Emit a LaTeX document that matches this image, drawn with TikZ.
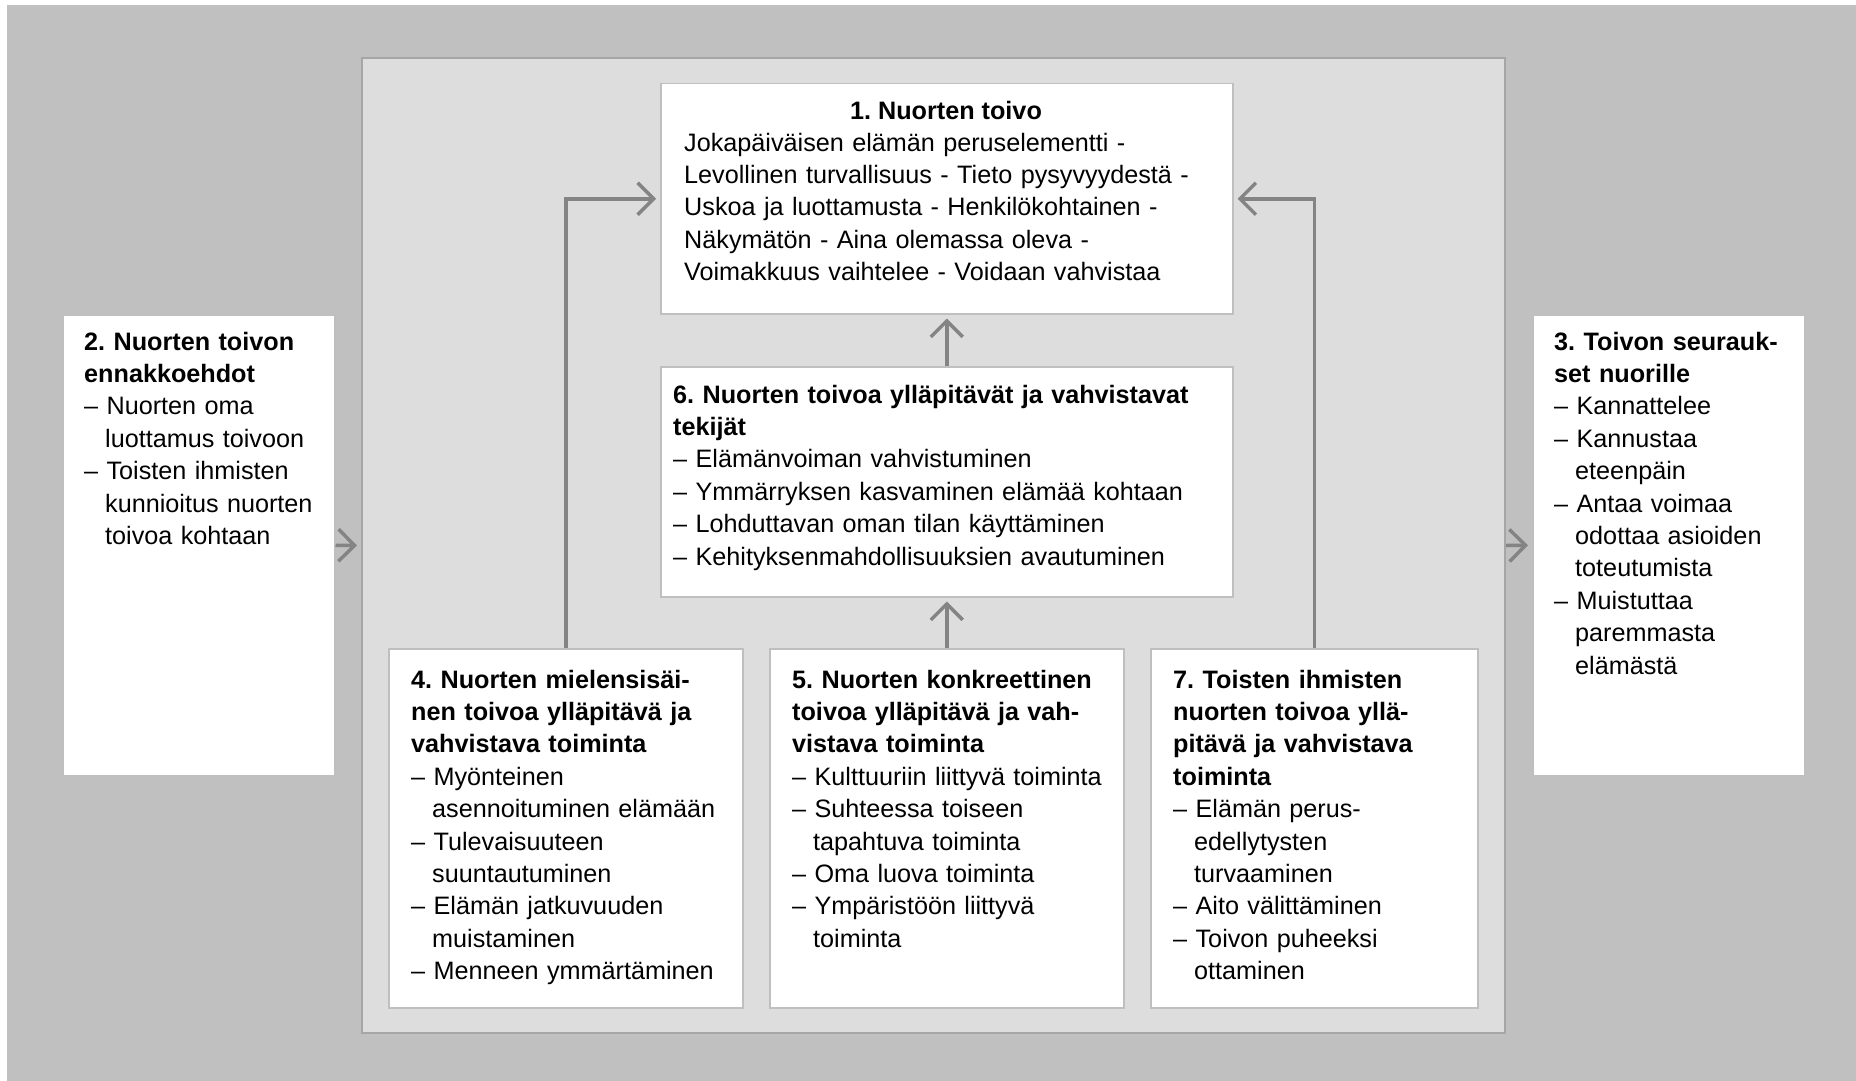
\documentclass[tikz,border=0pt]{standalone}
\usepackage{fontspec}
\setmainfont{Liberation Sans}
\usetikzlibrary{arrows.meta}
\definecolor{outerbg}{HTML}{C0C0C0}
\definecolor{panelbg}{HTML}{DDDDDD}
\definecolor{panelline}{HTML}{A6A6A6}
\definecolor{boxline}{HTML}{BFBFBF}
\definecolor{arrowgray}{HTML}{848484}
% hanging indent for the continuation lines of a list item
\newcommand\hin{\hspace*{21pt}}
\frenchspacing

\begin{document}
\begin{tikzpicture}[x=1pt,y=-1pt,
  box/.style={draw=boxline, line width=1.5pt, fill=white, inner sep=0pt, anchor=north west},
  txt/.style={anchor=base west, inner sep=0pt, align=left, text width=#1,
    font=\fontsize{25.2}{32.4}\selectfont},
  arr/.style={draw=arrowgray, line width=3.5pt,
    -{Straight Barb[length=16pt,width=32pt]}, shorten >=4pt}
]
\useasboundingbox (0,0) rectangle (1856,1081);
\fill[white] (0,0) rectangle (1856,1081);
\fill[outerbg] (7,5) rectangle (1856,1081);

% central panel
\node[draw=panelline, line width=2pt, fill=panelbg, inner sep=0pt, anchor=north west,
      minimum width=1143pt, minimum height=975pt] (panel) at (361,57) {};

% boxes
\node[box, minimum width=572pt, minimum height=230pt] (b1) at (660,83) {};
\node[box, minimum width=572pt, minimum height=230pt] (b6) at (660,366) {};
\node[box, minimum width=354pt, minimum height=359pt] (b4) at (388,648) {};
\node[box, minimum width=354pt, minimum height=359pt] (b5) at (769,648) {};
\node[box, minimum width=327pt, minimum height=359pt] (b7) at (1150,648) {};
\node[box, minimum width=272pt, minimum height=461pt] (b2) at (62,314) {};
\node[box, minimum width=272pt, minimum height=461pt] (b3) at (1532,314) {};

% connectors
\draw[arr] (b2.east) -- (panel.west);
\draw[arr] (panel.east) -- (b3.west);
\draw[arr] (b5.north) -- (b6.south);
\draw[arr] (b6.north) -- (b1.south);
\draw[arr] (b4.north) |- (b1.west);
\draw[arr] (b7.north) |- (b1.east);

% texts
\node[anchor=base, inner sep=0pt, font=\bfseries\fontsize{25.2}{32.4}\selectfont] (t1h) at (946,119) {1. Nuorten toivo};
\node[txt=540pt] (t1) at (684,151) {%
Jokapäiväisen elämän peruselementti -\\
Levollinen turvallisuus - Tieto pysyvyydestä -\\
Uskoa ja luottamusta - Henkilökohtainen -\\
Näkymätön - Aina olemassa oleva -\\
Voimakkuus vaihtelee - Voidaan vahvistaa};

\node[txt=550pt] (t6) at (673,403) {%
\textbf{6. Nuorten toivoa ylläpitävät ja vahvistavat}\\
\textbf{tekijät}\\
– Elämänvoiman vahvistuminen\\
– Ymmärryksen kasvaminen elämää kohtaan\\
– Lohduttavan oman tilan käyttäminen\\
– Kehityksenmahdollisuuksien avautuminen};

\node[txt=330pt] (t4) at (411,688) {%
\textbf{4. Nuorten mielensisäi-}\\
\textbf{nen toivoa ylläpitävä ja}\\
\textbf{vahvistava toiminta}\\
– Myönteinen\\
\hin asennoituminen elämään\\
– Tulevaisuuteen\\
\hin suuntautuminen\\
– Elämän jatkuvuuden\\
\hin muistaminen\\
– Menneen ymmärtäminen};

\node[txt=330pt] (t5) at (792,688) {%
\textbf{5. Nuorten konkreettinen}\\
\textbf{toivoa ylläpitävä ja vah-}\\
\textbf{vistava toiminta}\\
– Kulttuuriin liittyvä toiminta\\
– Suhteessa toiseen\\
\hin tapahtuva toiminta\\
– Oma luova toiminta\\
– Ympäristöön liittyvä\\
\hin toiminta};

\node[txt=300pt] (t7) at (1173,688) {%
\textbf{7. Toisten ihmisten}\\
\textbf{nuorten toivoa yllä-}\\
\textbf{pitävä ja vahvistava}\\
\textbf{toiminta}\\
– Elämän perus-\\
\hin edellytysten\\
\hin turvaaminen\\
– Aito välittäminen\\
– Toivon puheeksi\\
\hin ottaminen};

\node[txt=250pt] (t2) at (84,350) {%
\textbf{2. Nuorten toivon}\\
\textbf{ennakkoehdot}\\
– Nuorten oma\\
\hin luottamus toivoon\\
– Toisten ihmisten\\
\hin kunnioitus nuorten\\
\hin toivoa kohtaan};

\node[txt=250pt] (t3) at (1554,350) {%
\textbf{3. Toivon seurauk-}\\
\textbf{set nuorille}\\
– Kannattelee\\
– Kannustaa\\
\hin eteenpäin\\
– Antaa voimaa\\
\hin odottaa asioiden\\
\hin toteutumista\\
– Muistuttaa\\
\hin paremmasta\\
\hin elämästä};
\end{tikzpicture}
\end{document}
